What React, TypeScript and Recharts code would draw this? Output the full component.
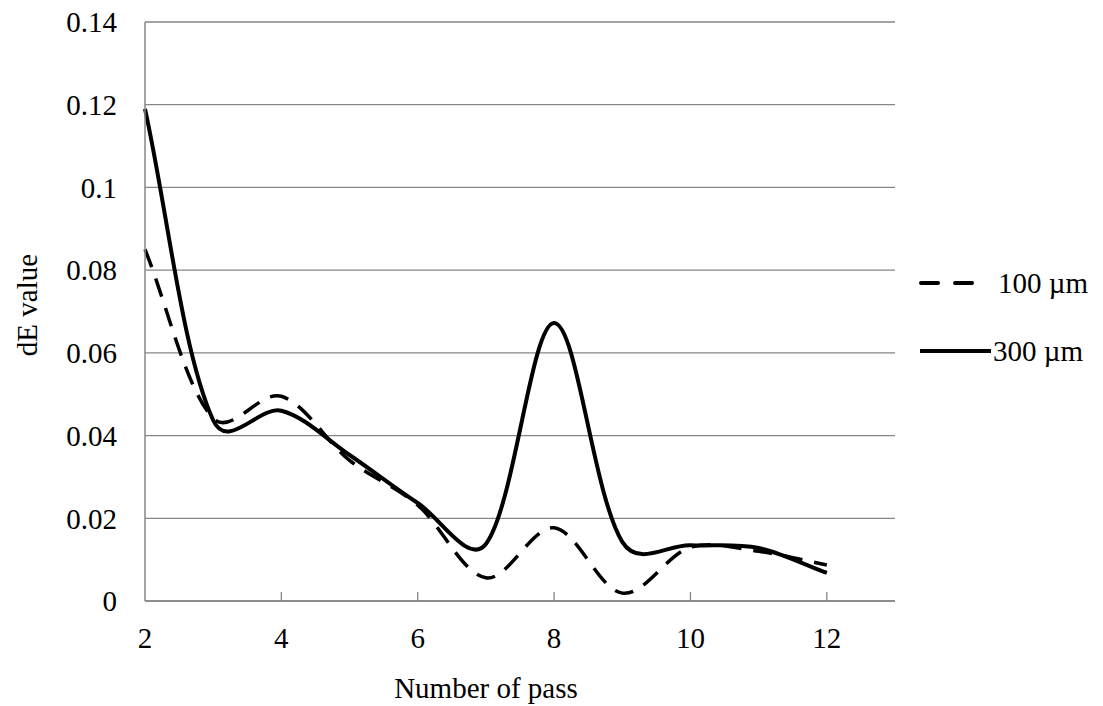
import { LineChart, Line, XAxis, YAxis, CartesianGrid } from "recharts";

const PASSES = [2, 3, 4, 5, 6, 7, 8, 9, 10, 11, 12];
const DE_100UM = [0.085, 0.0442, 0.0495, 0.034, 0.0232, 0.0056, 0.0177, 0.0019, 0.013, 0.012, 0.0087];
const DE_300UM = [0.119, 0.0437, 0.046, 0.0353, 0.0237, 0.0138, 0.0672, 0.0143, 0.0135, 0.0128, 0.0068];
const X_TICKS = [2, 4, 6, 8, 10, 12];
const Y_TICKS = [0, 0.02, 0.04, 0.06, 0.08, 0.1, 0.12, 0.14];

const FONT = "'Liberation Serif', 'Times New Roman', Tinos, 'Noto Serif', 'DejaVu Serif', FreeSerif, serif";
const GRID = "#868686";

// Excel-style smoothed line: cardinal bezier, tangents scaled by neighbouring segment lengths (centripetal)
function excelSmooth(context: any) {
  let pts: [number, number][] = [];
  return {
    areaStart() {},
    areaEnd() {},
    lineStart() {
      pts = [];
    },
    point(x: number, y: number) {
      pts.push([+x, +y]);
    },
    lineEnd() {
      const n = pts.length;
      if (!n) return;
      const dist = (a: [number, number], b: [number, number]) => Math.sqrt(Math.hypot(b[0] - a[0], b[1] - a[1]));
      context.moveTo(pts[0][0], pts[0][1]);
      for (let i = 0; i < n - 1; i++) {
        const p0 = pts[Math.max(i - 1, 0)];
        const p1 = pts[i];
        const p2 = pts[i + 1];
        const p3 = pts[Math.min(i + 2, n - 1)];
        const d01 = dist(p0, p1);
        const d12 = dist(p1, p2);
        const d23 = dist(p2, p3);
        const s1 = d01 + d12 > 0 ? (2 * d12) / (d01 + d12) : 1;
        const s2 = d12 + d23 > 0 ? (2 * d12) / (d12 + d23) : 1;
        context.bezierCurveTo(
          p1[0] + ((p2[0] - p0[0]) / 6) * s1,
          p1[1] + ((p2[1] - p0[1]) / 6) * s1,
          p2[0] - ((p3[0] - p1[0]) / 6) * s2,
          p2[1] - ((p3[1] - p1[1]) / 6) * s2,
          p2[0],
          p2[1]
        );
      }
    },
  };
}

function XTick(props: any) {
  const { x, y, payload } = props;
  return (
    <g>
      {payload.value !== 2 && <line x1={x} x2={x} y1={y} y2={y - 9} stroke={GRID} strokeWidth={1.3} />}
      <text x={x} y={y + 37} textAnchor="middle" dominantBaseline="central" fontSize={29} fontFamily={FONT} fill="#000">
        {payload.value}
      </text>
    </g>
  );
}

function LegendBox() {
  return (
    <div
      style={{
        position: "absolute",
        left: 918,
        top: 262,
        width: 185,
        height: 110,
        fontFamily: FONT,
        fontSize: 29,
        color: "#000",
      }}
    >
      <svg width={80} height={110} style={{ position: "absolute", left: 0, top: 0 }}>
        <line x1={3} x2={56} y1={21} y2={21} stroke="#000" strokeWidth={4} strokeDasharray="17 17" strokeLinecap="round" />
        <line x1={2} x2={73} y1={89} y2={89} stroke="#000" strokeWidth={4} />
      </svg>
      <div style={{ position: "absolute", left: 80, top: 4, lineHeight: "34px", whiteSpace: "nowrap" }}>100 µm</div>
      <div style={{ position: "absolute", left: 75, top: 72, lineHeight: "34px", whiteSpace: "nowrap" }}>300 µm</div>
    </div>
  );
}

export default function App() {
  const data = PASSES.map((p, i) => ({ pass: p, um100: DE_100UM[i], um300: DE_300UM[i] }));

  return (
    <div style={{ position: "absolute", left: 0, top: 0, width: 1103, height: 706, background: "#fff" }}>
      <LineChart width={1103} height={706} data={data} margin={{ top: 22, right: 208, bottom: 0, left: 0 }}>
        <CartesianGrid vertical={false} stroke={GRID} strokeWidth={1.3} />
        <XAxis
          dataKey="pass"
          type="number"
          domain={[2, 13]}
          ticks={X_TICKS}
          height={105}
          tickLine={false}
          tickSize={0}
          tickMargin={0}
          axisLine={{ stroke: GRID, strokeWidth: 1.5 }}
          tick={(p: any) => <XTick {...p} />}
          label={{
            content: () => (
              <text x={486} y={688} textAnchor="middle" dominantBaseline="central" fontSize={29} fontFamily={FONT} fill="#000">
                Number of pass
              </text>
            ),
          }}
        />
        <YAxis
          type="number"
          domain={[0, 0.14]}
          ticks={Y_TICKS}
          width={145}
          tickLine={false}
          tickSize={0}
          tickMargin={28}
          tickFormatter={(v: number) => String(v)}
          axisLine={{ stroke: GRID, strokeWidth: 1.5 }}
          tick={{ fontSize: 29, fontFamily: FONT, fill: "#000" }}
          label={{
            content: () => (
              <text
                x={27}
                y={305}
                transform="rotate(-90 27 305)"
                textAnchor="middle"
                dominantBaseline="central"
                fontSize={29}
                fontFamily={FONT}
                fill="#000"
              >
                dE value
              </text>
            ),
          }}
        />
        <Line
          type={excelSmooth as any}
          dataKey="um100"
          name="100 µm"
          stroke="#000"
          strokeWidth={3.5}
          strokeDasharray="19 12"
          dot={false}
          isAnimationActive={false}
        />
        <Line
          type={excelSmooth as any}
          dataKey="um300"
          name="300 µm"
          stroke="#000"
          strokeWidth={4}
          dot={false}
          isAnimationActive={false}
        />
      </LineChart>
      <LegendBox />
    </div>
  );
}
